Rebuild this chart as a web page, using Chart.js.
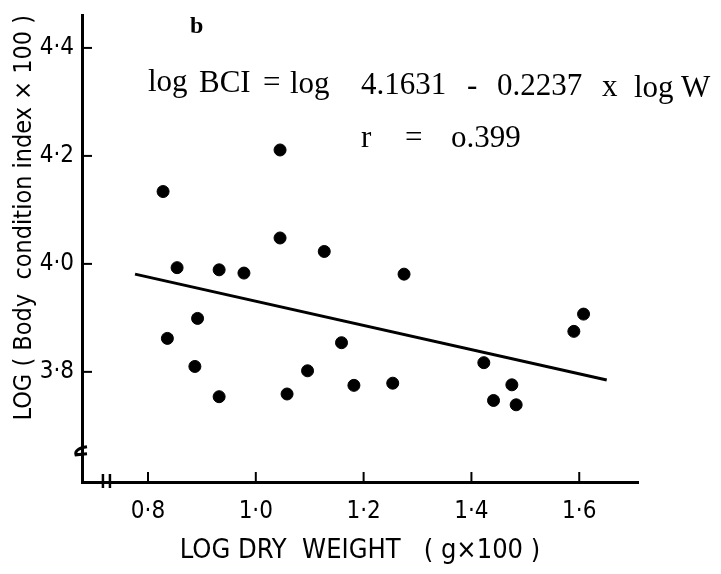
<!DOCTYPE html>
<html>
<head>
<meta charset="utf-8">
<script src="https://cdn.jsdelivr.net/npm/chart.js@4/dist/chart.umd.min.js"></script>
<style>
	html, body { margin: 0; padding: 0; background: #fff; }
	#wrap { width: 721px; height: 574px; }
</style>
</head>
<body>
<div id="wrap"><canvas id="grafik"></canvas></div>
<script>
// log dry weight (g x 100) of each fish
const logWeight = [
	0.828, 1.045, 0.854, 0.932, 0.978, 1.045, 1.127, 1.275, 0.892, 0.836, 1.159, 0.887,
	1.096, 1.182, 1.254, 0.932, 1.058, 1.423, 1.475, 1.441, 1.483, 1.59, 1.608,
]
// log body condition index (x 100)
const logBCI = [
	4.134, 4.211, 3.993, 3.989, 3.983, 4.048, 4.023, 3.981, 3.899, 3.862, 3.854, 3.81,
	3.802, 3.775, 3.779, 3.754, 3.759, 3.817, 3.776, 3.747, 3.739, 3.875, 3.907,
]
// regression line ends
const lineX = [0.776, 1.651]
const lineY = [3.981, 3.785]

const xTicks = [0.8, 1.0, 1.2, 1.4, 1.6]
const yTicks = [3.8, 4.0, 4.2, 4.4]

const nuqta = v => v.toFixed(1).replace('.', '·')
const yozuvFont = '"DejaVu Sans Condensed", "Liberation Sans Narrow", "DejaVu Sans", sans-serif'

// ichkariga qaragan tick chiziqlari, o'q uzilishlari va matnlar
const bezak = {
	id: 'bezak',
	afterDraw(chart) {
		const ctx = chart.ctx
		const xs = chart.scales.x
		const ys = chart.scales.y
		const x0 = xs.left
		const y0 = ys.bottom
		ctx.save()
		ctx.strokeStyle = '#000'
		ctx.lineWidth = 2
		xTicks.forEach(v => {
			const px = xs.getPixelForValue(v)
			ctx.beginPath()
			ctx.moveTo(px, y0)
			ctx.lineTo(px, y0 - 10)
			ctx.stroke()
		})
		yTicks.forEach(v => {
			const py = ys.getPixelForValue(v)
			ctx.beginPath()
			ctx.moveTo(x0, py)
			ctx.lineTo(x0 + 10, py)
			ctx.stroke()
		})
		// x o'qidagi uzilish
		const bx = xs.getPixelForValue(0.722)
		ctx.lineWidth = 2.5
		;[bx - 3, bx + 4].forEach(p => {
			ctx.beginPath()
			ctx.moveTo(p, y0 - 8)
			ctx.lineTo(p, y0 + 6)
			ctx.stroke()
		})
		// y o'qidagi uzilish
		const by = ys.getPixelForValue(3.65)
		ctx.lineWidth = 3
		ctx.beginPath()
		ctx.moveTo(x0 + 5, by - 6)
		ctx.quadraticCurveTo(x0 - 8, by - 4, x0 - 6, by + 2)
		ctx.lineTo(x0 + 5, by + 1)
		ctx.stroke()

		// tenglama va r
		ctx.fillStyle = '#000'
		ctx.textBaseline = 'alphabetic'
		ctx.font = 'bold 24px "Liberation Serif", serif'
		ctx.fillText('b', 190, 33)
		ctx.font = '31px "Liberation Serif", serif'
		const tokens = [
			['log', 148], ['BCI', 199], ['=', 263], ['log', 290], ['4.1631', 361],
			['-', 467], ['0.2237', 497], ['x', 602], ['log', 634], ['W', 681],
		]
		tokens.forEach(([t, x]) => ctx.fillText(t, x, 91 + (x - 148) * 0.012))
		ctx.fillText('r', 361, 147)
		ctx.fillText('=', 405, 147)
		ctx.fillText('o.399', 451, 147)
		ctx.restore()
	},
}

new Chart(document.getElementById('grafik'), {
	type: 'scatter',
	data: {
		datasets: [
			{
				data: logWeight.map((x, i) => ({ x, y: logBCI[i] })),
				backgroundColor: '#000',
				borderColor: '#000',
				pointRadius: 6,
				pointHoverRadius: 6,
			},
			{
				type: 'line',
				data: lineX.map((x, i) => ({ x, y: lineY[i] })),
				borderColor: '#000',
				borderWidth: 3,
				pointRadius: 0,
				fill: false,
			},
		],
	},
	options: {
		responsive: true,
		maintainAspectRatio: false,
		animation: false,
		layout: { padding: { left: 0, top: 15, right: 83, bottom: 0 } },
		plugins: {
			legend: { display: false },
			tooltip: { enabled: false },
		},
		scales: {
			x: {
				type: 'linear',
				min: 0.6776,
				max: 1.709,
				afterBuildTicks: s => { s.ticks = xTicks.map(value => ({ value })) },
				afterFit: s => { s.height = 92 },
				grid: { display: false },
				border: { display: true, color: '#000', width: 3 },
				ticks: {
					color: '#000',
					padding: 7,
					font: { family: yozuvFont, size: 24 },
					callback: v => nuqta(v),
				},
				title: {
					display: true,
					text: 'LOG DRY  WEIGHT   ( g×100 )',
					color: '#000',
					font: { family: yozuvFont, size: 27 },
					padding: { top: 0, bottom: 7 },
				},
			},
			y: {
				type: 'linear',
				min: 3.596,
				max: 4.461,
				afterBuildTicks: s => { s.ticks = yTicks.map(value => ({ value })) },
				afterFit: s => { s.width = 82 },
				grid: { display: false },
				border: { display: true, color: '#000', width: 3 },
				ticks: {
					color: '#000',
					padding: 0,
					font: { family: yozuvFont, size: 24 },
					callback: v => nuqta(v),
				},
				title: {
					display: true,
					text: 'LOG ( Body  condition index × 100 )',
					align: 'end',
					color: '#000',
					font: { family: yozuvFont, size: 25 },
					padding: { top: 9, bottom: 0 },
				},
			},
		},
	},
	plugins: [bezak],
})
</script>
</body>
</html>
